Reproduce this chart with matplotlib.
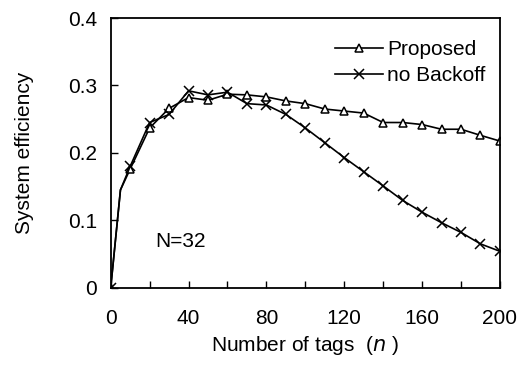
import matplotlib
matplotlib.use("Agg")
import matplotlib.pyplot as plt
from matplotlib.ticker import MultipleLocator

plt.rcParams['font.family'] = ['Liberation Sans', 'DejaVu Sans']

# number of tags (x=5 is a curve point with no marker)
n = [0, 5, 10, 20, 30, 40, 50, 60, 70, 80, 90, 100,
     110, 120, 130, 140, 150, 160, 170, 180, 190, 200]

proposed = [0.0, 0.145, 0.176, 0.237, 0.266, 0.282, 0.278, 0.287, 0.286, 0.283, 0.277, 0.273,
            0.265, 0.262, 0.259, 0.245, 0.245, 0.242, 0.235, 0.235, 0.226, 0.2175]
no_backoff = [0.0, 0.145, 0.180, 0.245, 0.257, 0.292, 0.286, 0.290, 0.273, 0.271, 0.257, 0.237,
              0.215, 0.193, 0.172, 0.151, 0.1295, 0.112, 0.0964, 0.082, 0.065, 0.054]

marked = [i for i in range(len(n)) if i != 1]
FS = 15

fig = plt.figure(figsize=(5.24, 3.79), dpi=100)
ax = fig.add_axes([0.2113, 0.2409, 0.7427, 0.7116])

ax.plot(n, proposed, color='black', lw=1.2, marker='^', ms=5.5, mfc='white',
        mec='black', mew=1.1, markevery=marked, label='Proposed')
ax.plot(n, no_backoff, color='black', lw=1.2, marker='x', ms=6.5,
        mew=1.1, markevery=marked, label='no Backoff')

ax.set_xlim(0, 200)
ax.set_ylim(0, 0.4)
ax.xaxis.set_major_locator(MultipleLocator(40))
ax.xaxis.set_minor_locator(MultipleLocator(20))
ax.set_yticks([0, 0.1, 0.2, 0.3, 0.4])
ax.set_yticklabels(['0', '0.1', '0.2', '0.3', '0.4'])
ax.tick_params(which='both', direction='in', labelsize=FS, width=1, length=5)
ax.tick_params(axis='x', pad=15)
ax.tick_params(axis='y', pad=10)
for s in ax.spines.values():
    s.set_linewidth(1.3)

ax.set_xlabel('Number of tags  ($\\it{n}$ )', fontsize=FS, labelpad=5)
ax.set_ylabel('System efficiency', fontsize=FS, labelpad=24)

ax.text(23, 0.068, 'N=32', fontsize=FS, va='center')

ax.legend(loc='upper right', bbox_to_anchor=(0.985, 0.95), frameon=False,
          fontsize=FS, handlelength=2.3, handletextpad=0.2, labelspacing=0.35,
          borderaxespad=0)

fig.savefig('out.png', dpi=100)
